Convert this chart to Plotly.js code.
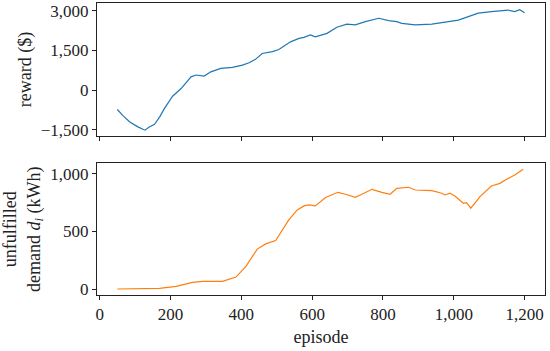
<!DOCTYPE html>
<html>
<head>
<meta charset="utf-8">
<script src="https://cdn.plot.ly/plotly-3.0.1.min.js"></script>
<style>html,body{margin:0;padding:0;background:#fff;}#chart{width:550px;height:351px;}</style>
</head>
<body>
<div id="chart"></div>
<script>
const rewardEpisodes = [50, 65, 85, 108, 128, 140, 155, 170, 183, 206, 230, 258, 272, 295, 314, 342, 375, 403, 422, 440, 459, 488, 506, 539, 563, 577, 595, 609, 642, 670, 698, 722, 750, 788, 816, 839, 853, 891, 938, 985, 1013, 1041, 1069, 1106, 1153, 1172, 1186, 1200];
const rewardValues = [-730, -950, -1200, -1385, -1510, -1390, -1290, -1000, -690, -230, 60, 500, 570, 530, 690, 820, 860, 940, 1030, 1160, 1380, 1450, 1530, 1820, 1950, 1990, 2080, 2010, 2140, 2370, 2490, 2460, 2580, 2710, 2620, 2580, 2520, 2460, 2490, 2580, 2640, 2770, 2900, 2960, 3020, 2960, 3030, 2920];

const demandEpisodes = [50, 80, 122, 169, 216, 262, 291, 320, 347, 385, 413, 445, 469, 497, 534, 558, 577, 591, 609, 638, 673, 694, 722, 736, 769, 797, 820, 839, 872, 891, 924, 938, 966, 975, 989, 1003, 1027, 1036, 1048, 1074, 1106, 1130, 1149, 1172, 1196];
const demandValues = [0, 0, 0, 5, 23, 57, 66, 68, 66, 104, 196, 347, 392, 421, 600, 687, 722, 730, 722, 795, 840, 823, 797, 817, 866, 840, 823, 875, 884, 860, 860, 855, 832, 817, 832, 808, 745, 750, 702, 802, 895, 918, 953, 990, 1040];

const xTicks = [0, 200, 400, 600, 800, 1000, 1200];
const rewardTicks = [-1500, 0, 1500, 3000];
const demandTicks = [0, 500, 1000];

const FONT = '"Liberation Serif", serif';
const INK = '#222';
const axisCommon = {
  showline: true, mirror: true, linecolor: INK, linewidth: 1,
  ticks: 'outside', ticklen: 4, tickcolor: INK, tickwidth: 1,
  showgrid: false, zeroline: false,
  tickfont: {family: FONT, size: 17, color: INK},
  separatethousands: true
};
const titleFont = {family: FONT, size: 18, color: INK};

const traces = [
  {x: rewardEpisodes, y: rewardValues, xaxis: 'x', yaxis: 'y', type: 'scatter', mode: 'lines',
   line: {color: '#1f77b4', width: 1.2}, showlegend: false},
  {x: demandEpisodes, y: demandValues, xaxis: 'x2', yaxis: 'y2', type: 'scatter', mode: 'lines',
   line: {color: '#ff7f0e', width: 1.2}, showlegend: false}
];

const layout = {
  width: 550, height: 351,
  margin: {l: 97, r: 5, t: 3, b: 56},
  paper_bgcolor: '#fff', plot_bgcolor: '#fff',
  font: {family: FONT, size: 17, color: INK},
  xaxis: Object.assign({}, axisCommon, {domain: [0, 1], anchor: 'y', range: [-7.5, 1257.5], tickvals: xTicks, showticklabels: false}),
  yaxis: Object.assign({}, axisCommon, {domain: [0.5445, 1], anchor: 'x', range: [-1730, 3285], tickvals: rewardTicks,
    title: {text: 'reward ($)', font: titleFont, standoff: 4}}),
  xaxis2: Object.assign({}, axisCommon, {domain: [0, 1], anchor: 'y2', range: [-7.5, 1257.5], tickvals: xTicks,
    title: {text: 'episode', font: titleFont, standoff: 6}}),
  yaxis2: Object.assign({}, axisCommon, {domain: [0, 0.451], anchor: 'x2', range: [-52, 1092], tickvals: demandTicks,
    title: {text: 'unfulfilled<br>demand <i>d<sub>i</sub></i> (kWh)', font: titleFont, standoff: 5}})
};

Plotly.newPlot('chart', traces, layout, {staticPlot: true, displayModeBar: false});
</script>
</body>
</html>
